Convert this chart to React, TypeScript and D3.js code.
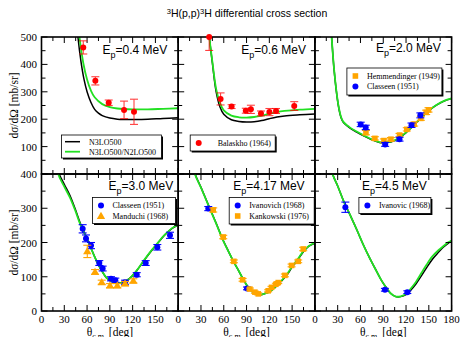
import * as d3 from "d3";

type Pt = [number, number];
type Obs = [number, number, number];

const W = 462;
const H = 337;

// theory curves (theta, dsigma/dOmega)
const black04: Pt[] = [[44, 640], [48, 500], [52, 410], [56, 345], [60, 300], [65, 262], [70, 236], [75, 222], [80, 213], [90, 204], [100, 200], [110, 199], [120, 199], [140, 200], [160, 203], [180, 205]];
const green04: Pt[] = [[46, 640], [50, 500], [55, 405], [60, 345], [65, 305], [70, 280], [80, 255], [90, 244], [100, 239], [120, 236], [140, 236], [160, 238], [180, 240]];
const black06: Pt[] = [[36, 660], [41, 500], [45, 405], [50, 300], [55, 245], [60, 218], [70, 198], [80, 192], [90, 190], [100, 191], [110, 195], [120, 202], [130, 208], [140, 212], [160, 216], [180, 219]];
const green06: Pt[] = [[36, 660], [41, 500], [45, 410], [50, 310], [55, 260], [60, 232], [70, 213], [80, 207], [90, 206], [100, 208], [110, 213], [120, 220], [130, 226], [140, 230], [160, 235], [180, 238]];
const black20: Pt[] = [[18, 660], [22, 500], [25, 388], [28, 308], [31, 248], [34, 210], [37, 190], [45, 170], [55, 153], [65, 138], [75, 125], [85, 115], [90, 114], [100, 117], [110, 129], [120, 151], [130, 177], [140, 205], [150, 231], [160, 251], [170, 266], [180, 275]];
const green20: Pt[] = [[18, 660], [22, 500], [25, 390], [28, 310], [31, 250], [34, 212], [37, 192], [45, 172], [55, 155], [65, 140], [75, 126], [85, 116], [90, 115], [100, 118], [110, 130], [120, 152], [130, 178], [140, 206], [150, 232], [160, 252], [170, 267], [180, 276]];
const black30: Pt[] = [[16, 500], [22, 408], [30, 370], [37.5, 337], [45, 294], [50.7, 258], [60, 211], [72.7, 145], [80, 115], [86, 96], [95, 84], [101, 81], [108, 84], [116.5, 96], [125, 117], [134, 144], [143, 171], [152, 195], [162, 221], [172, 241], [180, 251]];
const green30: Pt[] = [[16, 490], [22, 400], [30, 363], [37.5, 331], [45, 290], [50.7, 255], [60, 210], [72.7, 145], [80, 115], [86, 96], [95, 84], [101, 81], [108, 84], [116.5, 96], [125, 117], [134, 145], [143, 172], [152, 196], [162, 222], [172, 242], [180, 252]];
const black417: Pt[] = [[16, 470], [22, 402], [30, 361], [42, 298], [50, 256], [59.5, 205], [66, 175], [72.7, 145], [80, 116], [86, 91], [92, 70], [98.8, 54], [106.7, 47], [113, 50], [121, 57], [130, 74], [142.7, 104], [150, 128], [157, 148], [164.6, 172], [172, 189], [180, 198]];
const green417: Pt[] = [[16, 470], [22, 400], [30, 360], [42, 297], [50, 255], [59.5, 204], [66, 175], [72.7, 145], [80, 116], [86, 91], [92, 70], [98.8, 54], [106.7, 47], [113, 50], [121, 57], [130, 75], [142.7, 106], [150, 130], [157, 150], [164.6, 174], [172, 190], [180, 199]];
const black45: Pt[] = [[16, 480], [23.3, 400], [30, 365], [38, 320], [46, 282], [55, 238], [63.6, 194], [72, 155], [81.2, 116], [88, 88], [94.4, 67], [100, 51], [106.6, 42], [113, 42], [120, 48], [125, 58], [133, 79], [140, 102], [147, 126], [155, 152], [163, 172], [169, 186], [175, 197], [180, 204]];
const green45: Pt[] = [[16, 480], [23.3, 400], [30, 365], [38, 320], [46, 282], [55, 238], [63.6, 194], [72, 155], [81.2, 116], [88, 88], [94.4, 67], [100, 51], [106.6, 42], [113, 43], [120, 50], [125, 62], [133, 85], [140, 110], [147, 135], [155, 160], [163, 178], [169, 189], [175, 200], [180, 206]];

// measurements (theta, value, error)
const red04: Obs[] = [[55, 462, 24], [70.9, 340, 15], [88.5, 260, 10], [108.7, 234, 32], [121.8, 227, 46]];
const balaskho: Obs[] = [[40.8, 500, 49], [55.8, 274, 22], [70.3, 246, 7], [89, 231, 9], [95.7, 236, 15], [109, 221, 9], [120.1, 226, 13], [128.8, 230, 9], [152.8, 248, 16]];
const hemmendinger: Obs[] = [[67.2, 151, 8], [79, 130, 6], [90.9, 122, 6], [100.1, 127, 6], [111.4, 142, 6], [121, 163, 6], [130.7, 182, 7], [139.5, 203, 7], [146.5, 225, 8], [149.6, 234, 8]];
const classeen20: Obs[] = [[60.3, 181, 8], [66.9, 170, 8], [92.5, 108, 7], [111.4, 127, 7], [127.2, 178, 8], [138.9, 214, 9]];
const classeen30: Obs[] = [[54.2, 240, 12], [58.6, 212, 10], [65.2, 191, 9], [76.1, 140, 7], [80.5, 124, 7], [91.5, 94, 6], [97.2, 90, 6], [110, 84, 6], [125.4, 106, 6], [137.2, 140, 7], [152.5, 186, 8], [169.2, 221, 9]];
const manduchi: Obs[] = [[60.3, 174, 18], [70.5, 114, 7], [79.3, 84, 6], [90.2, 74, 6], [99.8, 74, 6], [110, 80, 6], [120.9, 88, 6]];
const ivanovich417: Obs[] = [[39.6, 299, 6], [90.6, 66, 4]];
const kankowski: Obs[] = [[46.1, 295, 6], [59.3, 216, 5], [73.3, 145, 4], [84.8, 91, 4], [94.4, 64, 3], [101, 55, 3], [105.4, 50, 3], [118.5, 59, 3], [122.9, 69, 3], [128.6, 78, 3], [131.7, 83, 3], [140.5, 104, 4], [149.3, 133, 4], [158, 145, 4], [164.6, 181, 5]];
const ivanovic45: Obs[] = [[40.1, 303, 15], [92.2, 62, 4], [121.7, 55, 4]];

const energies = ["0.4", "0.6", "2.0", "3.0", "4.17", "4.5"];
const topTicks = [500, 400, 300, 200, 100];
const bottomTicks = [400, 300, 200, 100, 0];
const xTicksShort = [0, 30, 60, 90, 120, 150];
const xTicksLong = [0, 30, 60, 90, 120, 150, 180];

const RED = "#ff0000";
const BLUE = "#0000ff";
const ORANGE = "#ffa500";
const GREEN = "#22e022";
const SERIF = "'Liberation Serif', 'Times New Roman', serif";
const SANS = "'Liberation Sans', Arial, sans-serif";

type Series = { data: Obs[]; color: string; shape: "circle" | "square" | "triangle"; label?: string };
type Panel = {
  black: Pt[];
  green: Pt[];
  series: Series[];
  ymax: number;
  labelPos: [number, number];
  legend?: { x: number; y: number; w: number; h: number; curves?: boolean };
};

const panels: Panel[] = [
  { black: black04, green: green04, series: [{ data: red04, color: RED, shape: "circle" }], ymax: 500, labelPos: [61, 54], legend: { x: 20, y: 98, w: 100, h: 23, curves: true } },
  { black: black06, green: green06, series: [{ data: balaskho, color: RED, shape: "circle", label: "Balaskho (1964)" }], ymax: 500, labelPos: [63, 54], legend: { x: 12, y: 98, w: 85, h: 16 } },
  { black: black20, green: green20, series: [{ data: hemmendinger, color: ORANGE, shape: "square", label: "Hemmendinger (1949)" }, { data: classeen20, color: BLUE, shape: "circle", label: "Classeen (1951)" }], ymax: 500, labelPos: [61, 52], legend: { x: 32, y: 31, w: 95, h: 27 } },
  { black: black30, green: green30, series: [{ data: classeen30, color: BLUE, shape: "circle", label: "Classeen (1951)" }, { data: manduchi, color: ORANGE, shape: "triangle", label: "Manduchi (1968)" }], ymax: 400, labelPos: [67, 190], legend: { x: 51, y: 23.5, w: 83, h: 26 } },
  { black: black417, green: green417, series: [{ data: ivanovich417, color: BLUE, shape: "circle", label: "Ivanovich (1968)" }, { data: kankowski, color: ORANGE, shape: "square", label: "Kankowski (1976)" }], ymax: 400, labelPos: [55, 190], legend: { x: 51, y: 23.5, w: 85, h: 26.5 } },
  { black: black45, green: green45, series: [{ data: ivanovic45, color: BLUE, shape: "circle", label: "Ivanovic (1968)" }], ymax: 400, labelPos: [47, 190], legend: { x: 44, y: 23.5, w: 72, h: 16 } },
];

const LEFT = 41.5;
const PW = 136.7;
const ROWS = [37, 174];
const PH = 137;

function Marker({ x, y, shape, color }: { x: number; y: number; shape: string; color: string }) {
  if (shape === "square") return <rect x={x - 2.8} y={y - 2.8} width={5.6} height={5.6} fill={color} />;
  if (shape === "triangle") return <path d={d3.symbol(d3.symbolTriangle, 30)() ?? ""} transform={`translate(${x},${y + 0.5})`} fill={color} />;
  return <circle cx={x} cy={y} r={3} fill={color} />;
}

export default function App() {
  return (
    <svg width={W} height={H} style={{ position: "absolute", left: 0, top: 0, background: "#fff" }}>
      <defs>
        {panels.map((p, i) => {
          const x0 = LEFT + (i % 3) * PW;
          const y0 = ROWS[Math.floor(i / 3)];
          return (
            <clipPath id={`clip${i}`} key={i}>
              <rect x={x0} y={y0} width={PW} height={PH} />
            </clipPath>
          );
        })}
      </defs>
      <text x={247} y={17} textAnchor="middle" fontFamily={SANS} fontSize={10.5} fill="#000">
        <tspan dy={-3.5} fontSize={7.5}>3</tspan>
        <tspan dy={3.5}>H(p,p)</tspan>
        <tspan dy={-3.5} fontSize={7.5}>3</tspan>
        <tspan dy={3.5}>H differential cross section</tspan>
      </text>
      {[0, 1].map((r) => (
        <text key={r} transform={`translate(18,${ROWS[r] + PH / 2}) rotate(-90)`} textAnchor="middle" fontFamily={SERIF} fontSize={11.5}>
          dσ/dΩ [mb/sr]
        </text>
      ))}
      {panels.map((p, i) => {
        const col = i % 3;
        const row = Math.floor(i / 3);
        const x0 = LEFT + col * PW;
        const y0 = ROWS[row];
        const x = d3.scaleLinear().domain([0, 180]).range([x0, x0 + PW]);
        const y = d3.scaleLinear().domain([0, p.ymax]).range([y0 + PH, y0]);
        const line = d3.line<Pt>().x((d) => x(d[0])).y((d) => y(d[1])).curve(d3.curveCatmullRom.alpha(0.5));
        const xMinor = d3.range(0, 181, 15);
        const yMinor = d3.range(0, p.ymax + 1, 50);
        const xLabels = col === 2 ? xTicksLong : xTicksShort;
        const yLabels = row === 0 ? topTicks : bottomTicks;
        return (
          <g key={i}>
            <g clipPath={`url(#clip${i})`}>
              <path d={line(p.black) ?? ""} fill="none" stroke="#000" strokeWidth={1.5} />
              <path d={line(p.green) ?? ""} fill="none" stroke={GREEN} strokeWidth={1.8} />
            </g>
            {/* ticks */}
            {xMinor.map((t) => {
              const len = t % 30 === 0 ? 6 : 4;
              return (
                <g key={`xt${t}`} stroke="#000" strokeWidth={1}>
                  <line x1={x(t)} x2={x(t)} y1={y0 + PH} y2={y0 + PH - len} />
                  <line x1={x(t)} x2={x(t)} y1={y0} y2={y0 + len} />
                </g>
              );
            })}
            {yMinor.map((t) => {
              const len = t % 100 === 0 ? 6 : 4;
              return (
                <g key={`yt${t}`} stroke="#000" strokeWidth={1}>
                  <line x1={x0} x2={x0 + len} y1={y(t)} y2={y(t)} />
                  <line x1={x0 + PW} x2={x0 + PW - len} y1={y(t)} y2={y(t)} />
                </g>
              );
            })}
            <rect x={x0} y={y0} width={PW} height={PH} fill="none" stroke="#000" strokeWidth={1.6} />
            {/* data */}
            {p.series.map((s, si) => (
              <g key={si}>
                {s.data.map((d, di) => {
                  const cx = x(d[0]);
                  const cy = y(d[1]);
                  const top = Math.max(y(d[1] + d[2]), y0 - 1);
                  const bot = y(d[1] - d[2]);
                  return (
                    <g key={di}>
                      <g stroke={s.color} strokeWidth={1.1} opacity={s.color === RED ? 0.75 : 1}>
                        <line x1={cx} x2={cx} y1={top} y2={bot} />
                        {y(d[1] + d[2]) > y0 && <line x1={cx - 4} x2={cx + 4} y1={top} y2={top} />}
                        <line x1={cx - 4} x2={cx + 4} y1={bot} y2={bot} />
                      </g>
                      <Marker x={cx} y={cy} shape={s.shape} color={s.color} />
                    </g>
                  );
                })}
              </g>
            ))}
            {/* energy label */}
            <text x={x0 + p.labelPos[0]} y={p.labelPos[1]} fontFamily={SANS} fontSize={12}>
              E<tspan dy={4} fontSize={9}>p</tspan>
              <tspan dy={-4}>={energies[i]} MeV</tspan>
            </text>
            {/* legend */}
            {p.legend && (
              <g transform={`translate(${x0 + p.legend.x},${y0 + p.legend.y})`}>
                <rect x={1.5} y={1.5} width={p.legend.w} height={p.legend.h} fill="#000" />
                <rect x={0} y={0} width={p.legend.w} height={p.legend.h} fill="#fff" stroke="#000" strokeWidth={0.8} />
                {p.legend.curves ? (
                  <>
                    <line x1={3.5} x2={18.5} y1={6.7} y2={6.7} stroke="#000" strokeWidth={1.5} />
                    <text x={27.5} y={9.5} fontFamily={SERIF} fontSize={8}>N3LO500</text>
                    <line x1={3.5} x2={18.5} y1={16.7} y2={16.7} stroke={GREEN} strokeWidth={1.8} />
                    <text x={27.5} y={19.5} fontFamily={SERIF} fontSize={8}>N3LO500/N2LO500</text>
                  </>
                ) : (
                  p.series.map((s, si) => (
                    <g key={si}>
                      <Marker x={8.5} y={8 + si * 10.5} shape={s.shape} color={s.color} />
                      <text x={s.label && s.label.startsWith("Balaskho") ? 27.5 : 20} y={10.8 + si * 10.5} fontFamily={SERIF} fontSize={8}>
                        {s.label}
                      </text>
                    </g>
                  ))
                )}
              </g>
            )}
            {/* axis labels */}
            {col === 0 &&
              yLabels.map((t) => (
                <text key={`yl${t}`} x={37} y={y(t) + 4} textAnchor="end" fontFamily={SERIF} fontSize={11}>
                  {t}
                </text>
              ))}
            {row === 1 &&
              xLabels.map((t) => (
                <text key={`xl${t}`} x={x(t)} y={323} textAnchor="middle" fontFamily={SERIF} fontSize={11}>
                  {t}
                </text>
              ))}
            {row === 1 && (
              <text x={x0 + PW / 2} y={336} textAnchor="middle" fontFamily={SERIF} fontSize={11.5}>
                θ<tspan dy={3} fontSize={8}>c.m.</tspan>
                <tspan dy={-3}> [deg]</tspan>
              </text>
            )}
          </g>
        );
      })}
    </svg>
  );
}
